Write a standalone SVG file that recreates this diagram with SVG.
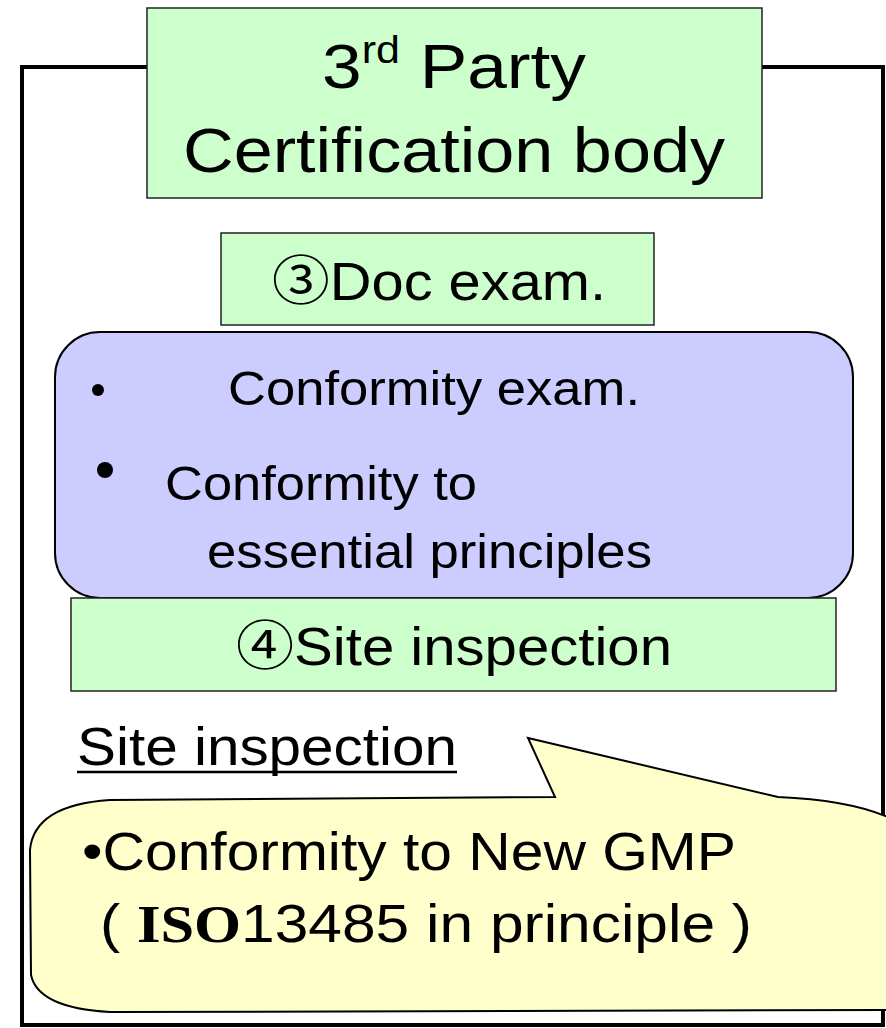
<svg xmlns="http://www.w3.org/2000/svg" width="886" height="1028" viewBox="0 0 886 1028">
<style>
.t{font-family:"Liberation Sans",Arial,sans-serif;fill:#000}
.g{fill:#CCFFCC;stroke:#222;stroke-width:1.5}
.c{font-family:"Noto Sans CJK JP","Liberation Sans",sans-serif}
</style>
<rect width="886" height="1028" fill="#fff"/>
<g id="frame"><rect x="22" y="67" width="861" height="958" fill="none" stroke="#000" stroke-width="4"/></g>
<g id="title">
<rect class="g" x="147" y="8" width="615" height="190"/>
<text class="t" x="322" y="88" font-size="63" textLength="264" lengthAdjust="spacingAndGlyphs">3<tspan font-size="38" dy="-25">rd</tspan><tspan dy="25"> Party</tspan></text>
<text class="t" x="183" y="172" font-size="63" textLength="542" lengthAdjust="spacingAndGlyphs">Certification body</text>
</g>
<g id="doc">
<rect class="g" x="221" y="233" width="433" height="92"/>
<text class="t" x="272" y="300" font-size="53" textLength="334" lengthAdjust="spacingAndGlyphs"><tspan class="c">③</tspan>Doc exam.</text>
</g>
<g id="conf">
<rect x="55" y="332" width="798" height="266" rx="45" fill="#CCCCFF" stroke="#000" stroke-width="2"/>
<circle cx="98" cy="390" r="6" fill="#000"/>
<text class="t" x="228" y="405" font-size="49" textLength="412" lengthAdjust="spacingAndGlyphs">Conformity exam.</text>
<circle cx="105" cy="470" r="8" fill="#000"/>
<text class="t" x="165" y="500" font-size="49" textLength="312" lengthAdjust="spacingAndGlyphs">Conformity to</text>
<text class="t" x="207" y="568" font-size="49" textLength="445" lengthAdjust="spacingAndGlyphs">essential principles</text>
</g>
<g id="site">
<rect class="g" x="71" y="598" width="765" height="93"/>
<text class="t" x="236" y="665" font-size="53" textLength="436" lengthAdjust="spacingAndGlyphs"><tspan class="c">④</tspan>Site inspection</text>
</g>
<g id="sitelabel">
<text class="t" x="77" y="765" font-size="53" textLength="380" lengthAdjust="spacingAndGlyphs">Site inspection</text>
<line x1="77" y1="772" x2="457" y2="772" stroke="#000" stroke-width="2.5"/>
</g>
<g id="callout">
<path d="M555,797 L528,738 L778,797 Q850,800 890,818 L890,1010 L110,1012 Q38,1008 31,975 L30,850 Q34,805 110,800 Z" fill="#FFFFCC" stroke="#000" stroke-width="2"/>
<text class="t" x="82" y="870" font-size="53" textLength="654" lengthAdjust="spacingAndGlyphs">•Conformity to New GMP</text>
<text class="t" x="100" y="942" font-size="53" textLength="652" lengthAdjust="spacingAndGlyphs">( <tspan font-family="Liberation Serif,serif" font-weight="bold">ISO</tspan>13485 in principle )</text>
</g>
</svg>
